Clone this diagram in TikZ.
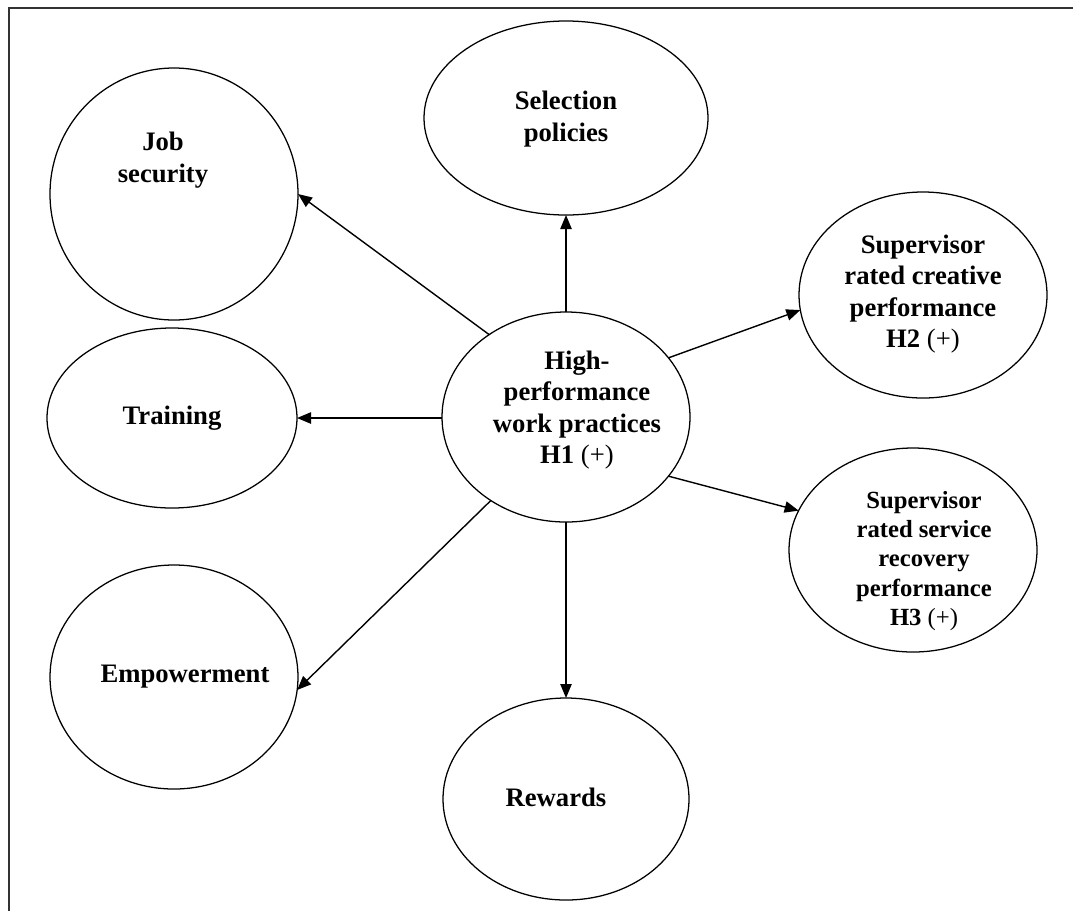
\documentclass[tikz,border=0pt]{standalone}
\usepackage{fontspec}
\setmainfont{Liberation Serif}
\usetikzlibrary{shapes.geometric,arrows.meta}

\tikzset{
  oval/.style={ellipse, draw=black, line width=0.95pt, inner sep=-10pt, outer sep=0pt},
  lbl/.style={align=center, inner sep=0pt, font=\fontsize{20}{23.5}\selectfont\bfseries},
  lblsmall/.style={align=center, inner sep=0pt, font=\fontsize{18.5}{22}\selectfont\bfseries},
  arr/.style={line width=1.05pt, -{Triangle[length=10.5pt,width=8.5pt]}},
  frame/.style={line width=1.1pt, draw=black!80}
}

\begin{document}
\begin{tikzpicture}[x=0.75pt, y=-0.75pt]
  \useasboundingbox (0,0) rectangle (1073,911);

  % open frame: top and left edges only
  \coordinate (f1) at (1073,8);
  \coordinate (f2) at (9,8);
  \coordinate (f3) at (9,911);
  \draw[frame] (f1) -- (f2) -- (f3);

  % construct ellipses
  \node[oval, minimum width=186pt, minimum height=157.5pt] (hp)  at (566,417) {};
  \node[oval, minimum width=186pt, minimum height=189pt]   (js)  at (174,194) {};
  \node[oval, minimum width=213pt, minimum height=145.5pt] (sel) at (566,118) {};
  \node[oval, minimum width=187.5pt, minimum height=135pt] (tr)  at (172,418) {};
  \node[oval, minimum width=186pt, minimum height=168pt]   (emp) at (174,677) {};
  \node[oval, minimum width=184.5pt, minimum height=151.5pt] (rew) at (566,799) {};
  \node[oval, minimum width=186pt, minimum height=154.5pt] (sc)  at (923,295) {};
  \node[oval, minimum width=186pt, minimum height=153pt]   (ss)  at (913,550) {};

  % labels
  \node[lbl] (hpt)  at (577,410) {High-\\performance\\work practices\\H1 {\mdseries(+)}};
  \node[lbl] (jst)  at (163,160) {Job\\security};
  \node[lbl] (selt) at (566,119) {Selection\\policies};
  \node[lbl] (trt)  at (172,418) {Training};
  \node[lbl] (empt) at (185,677) {Empowerment};
  \node[lbl] (rewt) at (556,797) {Rewards};
  \node[lbl] (sct)  at (923,294) {Supervisor\\rated creative\\performance\\H2 {\mdseries(+)}};
  \node[lblsmall] (sst) at (924,561) {Supervisor\\rated service\\recovery\\performance\\H3 {\mdseries(+)}};

  % paths from the central construct
  \draw[arr] (hp.133) -- (js.0);
  \draw[arr] (hp.90) -- (sel.270);
  \draw[arr] (hp.west |- tr) -- (tr.east);
  \draw[arr] (hp.228) -- (emp.354);
  \draw[arr] (hp.270) -- (rew.90);
  \draw[arr] (hp.30) -- (sc.187);
  \draw[arr] (hp.-30) -- (ss.161);
\end{tikzpicture}
\end{document}
